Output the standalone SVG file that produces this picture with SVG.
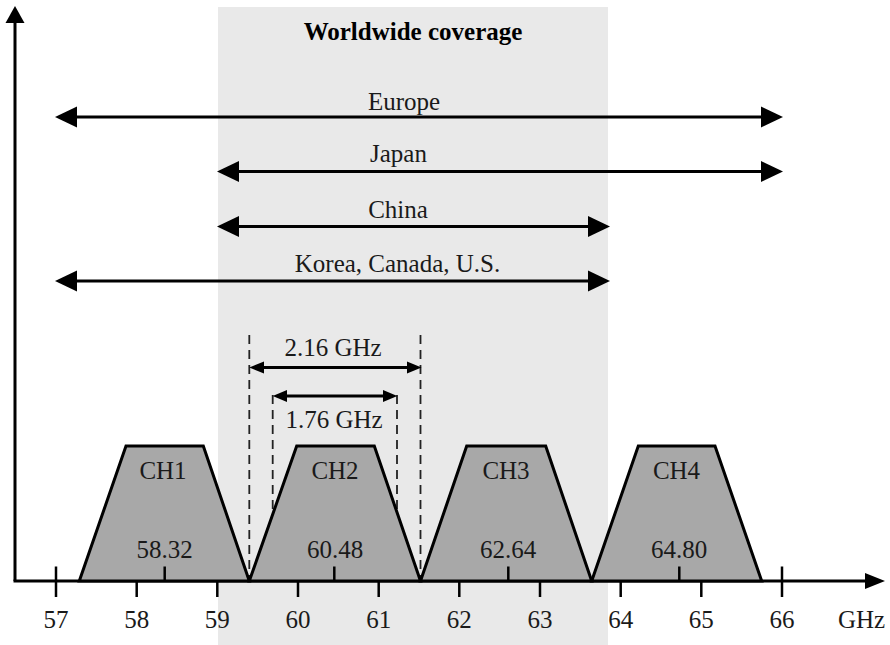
<svg xmlns="http://www.w3.org/2000/svg" width="890" height="645" viewBox="0 0 890 645">
<style>
text{font-family:"Liberation Serif","Times New Roman",serif;font-size:25px;fill:#1a1a1a;text-anchor:middle}
.b{font-weight:bold;fill:#000}
.ln{stroke:#000;stroke-width:3;fill:none}
.tk{stroke:#000;stroke-width:2.5;fill:none}
.ds{stroke:#222;stroke-width:1.8;stroke-dasharray:9 6;fill:none}
.ch{fill:#a8a8a8;stroke:#000;stroke-width:3;stroke-linejoin:miter}
.ah{fill:#000}
</style>
<rect x="218" y="7" width="390" height="638" fill="#e9e9e9"/>
<text class="b" x="413" y="40">Worldwide coverage</text>
<g id="connectors">
<!-- dashed guides -->
<line class="ds" x1="249.3" y1="335" x2="249.3" y2="581"/>
<line class="ds" x1="420.5" y1="335" x2="420.5" y2="581"/>
<line class="ds" x1="272.7" y1="395" x2="272.7" y2="540"/>
<line class="ds" x1="397" y1="395" x2="397" y2="540"/>
<!-- axes -->
<line class="ln" x1="15" y1="581" x2="15" y2="20"/>
<polygon class="ah" points="15,6 5.5,23 24.5,23"/>
<line class="ln" x1="13.5" y1="581" x2="868" y2="581"/>
<polygon class="ah" points="885,581 865,573 865,589"/>
<!-- region arrows -->
<line class="ln" x1="70" y1="117" x2="768" y2="117"/>
<polygon class="ah" points="55,117 77,106.5 77,127.5"/>
<polygon class="ah" points="783,117 761,106.5 761,127.5"/>
<line class="ln" x1="232" y1="171.5" x2="768" y2="171.5"/>
<polygon class="ah" points="217,171.5 239,161 239,182"/>
<polygon class="ah" points="783,171.5 761,161 761,182"/>
<line class="ln" x1="232" y1="226.5" x2="595" y2="226.5"/>
<polygon class="ah" points="217,226.5 239,216 239,237"/>
<polygon class="ah" points="610,226.5 588,216 588,237"/>
<line class="ln" x1="70" y1="281" x2="595" y2="281"/>
<polygon class="ah" points="55,281 77,270.5 77,291.5"/>
<polygon class="ah" points="610,281 588,270.5 588,291.5"/>
<!-- bandwidth arrows -->
<line class="ln" x1="260" y1="367.5" x2="411" y2="367.5"/>
<polygon class="ah" points="249.3,367.5 264,361.5 264,373.5"/>
<polygon class="ah" points="421.5,367.5 407,361.5 407,373.5"/>
<line class="ln" x1="283" y1="396" x2="387" y2="396"/>
<polygon class="ah" points="272.7,396 287,390 287,402"/>
<polygon class="ah" points="397.3,396 383,390 383,402"/>
</g>
<text x="404" y="110">Europe</text>
<text x="398.5" y="162">Japan</text>
<text x="398" y="218">China</text>
<text x="397.5" y="272">Korea, Canada, U.S.</text>
<text x="333" y="356">2.16 GHz</text>
<text x="334" y="428">1.76 GHz</text>
<g id="ch1"><polygon class="ch" points="79.3,581 126,446 203.3,446 249.3,581"/><text x="163" y="479">CH1</text><text x="164.7" y="558">58.32</text></g>
<g id="ch2"><polygon class="ch" points="249.3,581 296.7,446 374.3,446 420.5,581"/><text x="335" y="479">CH2</text><text x="335" y="558">60.48</text></g>
<g id="ch3"><polygon class="ch" points="420.5,581 466.7,446 545.7,446 591.7,581"/><text x="506" y="479">CH3</text><text x="508" y="558">62.64</text></g>
<g id="ch4"><polygon class="ch" points="591.7,581 638.3,446 715,446 761.7,581"/><text x="676.5" y="479">CH4</text><text x="679" y="558">64.80</text></g>
<g id="ticks">
<line class="tk" x1="56" y1="566.5" x2="56" y2="597"/>
<line class="tk" x1="136.7" y1="581" x2="136.7" y2="597"/>
<line class="tk" x1="217.3" y1="581" x2="217.3" y2="597"/>
<line class="tk" x1="298" y1="581" x2="298" y2="597"/>
<line class="tk" x1="378.7" y1="581" x2="378.7" y2="597"/>
<line class="tk" x1="459.3" y1="581" x2="459.3" y2="597"/>
<line class="tk" x1="540" y1="581" x2="540" y2="597"/>
<line class="tk" x1="620.7" y1="581" x2="620.7" y2="597"/>
<line class="tk" x1="701.3" y1="581" x2="701.3" y2="597"/>
<line class="tk" x1="782" y1="566.5" x2="782" y2="597"/>
<line class="tk" x1="164.7" y1="566.5" x2="164.7" y2="581"/>
<line class="tk" x1="334.3" y1="566.5" x2="334.3" y2="581"/>
<line class="tk" x1="508.3" y1="566.5" x2="508.3" y2="581"/>
<line class="tk" x1="679.3" y1="566.5" x2="679.3" y2="581"/>
</g>
<g id="labels">
<text x="56" y="628">57</text>
<text x="136.7" y="628">58</text>
<text x="217.3" y="628">59</text>
<text x="298" y="628">60</text>
<text x="378.7" y="628">61</text>
<text x="459.3" y="628">62</text>
<text x="540" y="628">63</text>
<text x="620.7" y="628">64</text>
<text x="701.3" y="628">65</text>
<text x="782" y="628">66</text>
<text x="861.5" y="628">GHz</text>
</g>
</svg>
